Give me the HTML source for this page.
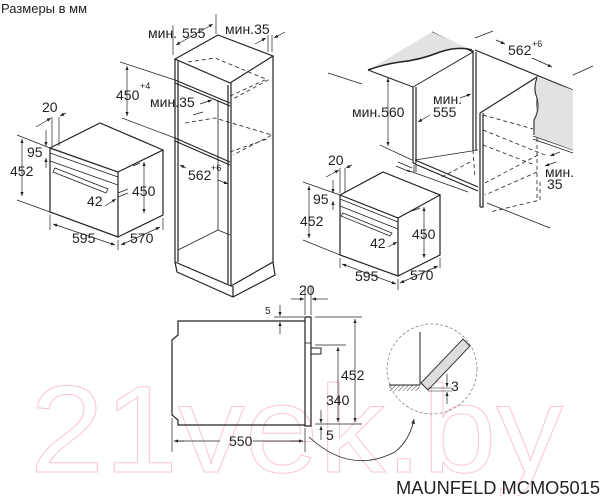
<!DOCTYPE html>
<html><head><meta charset="utf-8"><style>
html,body{margin:0;padding:0;background:#fff;width:600px;height:496px;overflow:hidden}
svg{display:block}
text{font-family:"Liberation Sans",sans-serif;fill:#222}
</style></head><body>
<svg width="600" height="496" viewBox="0 0 600 496" xmlns="http://www.w3.org/2000/svg">
<defs>
<marker id="a" viewBox="0 0 10 10" refX="10" refY="5" markerWidth="6" markerHeight="6" orient="auto-start-reverse"><path d="M0,1 L10,5 L0,9 z" fill="#222"/></marker>
<pattern id="h" width="3" height="3" patternUnits="userSpaceOnUse" patternTransform="rotate(45)"><line x1="0" y1="0" x2="0" y2="3" stroke="#444" stroke-width="1"/></pattern>
</defs>
<!-- watermark -->
<text x="30" y="472" font-size="124" textLength="533" lengthAdjust="spacingAndGlyphs" stroke="#f9c6d5" stroke-width="1" style="fill:none">21vek.by</text>

<text x="1" y="13" font-size="13">Размеры в мм</text>

<g stroke="#222" stroke-width="1.2" fill="none">
<!-- left oven -->
<path d="M50,148 L118,172 L118,237 L50,212 Z"/>
<path d="M50,148 L100,123 L163,150 L118,172"/>
<path d="M163,150 L163,215 L118,237"/>
<path d="M50,153 L118,177" stroke-width="0.8"/>
<path d="M50,161 L118,185" stroke-width="0.8"/>
<path d="M55,168 L108,189 L106,193 L53,172 Z" stroke-width="0.8"/>
<path d="M133,166 L140,163" stroke-width="0.8"/>
<path d="M52,117 L52,146" stroke-width="0.7"/><path d="M59,117 L59,146" stroke-width="0.7"/>
<path d="M36,127 L51,118" marker-end="url(#a)" stroke-width="0.7"/><path d="M66,113 L60,116" marker-end="url(#a)" stroke-width="0.7"/>
<path d="M17,135 L50,148" stroke-width="0.7"/><path d="M17,200 L50,212" stroke-width="0.7"/>
<path d="M22,139 L22,196" marker-start="url(#a)" marker-end="url(#a)" stroke-width="0.7"/>
<path d="M46,130 L46,146" marker-end="url(#a)" stroke-width="0.7"/><path d="M46,168 L46,158" marker-end="url(#a)" stroke-width="0.7"/>
<path d="M144,162 L144,213" marker-start="url(#a)" marker-end="url(#a)" stroke-width="0.7"/>
<path d="M50,215 L50,230" stroke-width="0.7"/><path d="M118,240 L118,250" stroke-width="0.7"/><path d="M163,218 L163,230" stroke-width="0.7"/>
<path d="M53,224 L115,245" marker-start="url(#a)" marker-end="url(#a)" stroke-width="0.7"/>
<path d="M121,245 L160,227" marker-start="url(#a)" marker-end="url(#a)" stroke-width="0.7"/>
<path d="M105,206 L116,199" marker-end="url(#a)" stroke-width="0.7"/>
<path d="M118,193 L128,189" stroke-width="0.7"/><path d="M118,197 L128,193" stroke-width="0.7"/>

<!-- tall cabinet -->
<path d="M175,59 L218,35 L273,56 L230,83 Z"/>
<path d="M175,59 L175,262 L231,286 L231,83"/>
<path d="M273,56 L273,262 L231,286"/>
<path d="M178,61 L178,262"/><path d="M228,85 L228,284"/>
<path d="M175,80 L230,103" /><path d="M175,83 L230,106"/>
<path d="M175,138 L230,162"/><path d="M175,141 L230,165"/>
<path d="M175,262 L177,272 L233,297 L275,275 L273,262"/><path d="M233,286 L233,297"/>
<path d="M218,230 L230,235" stroke-width="0.8"/>
<path d="M218,100 L218,230" stroke-width="0.8"/>
<path d="M218,230 L178,250" stroke-width="0.8"/>
<g stroke-dasharray="4,3" stroke-width="0.8">
<path d="M188,62 L215,58 L268,80 L233,99"/><path d="M230,96 L265,80"/>
<path d="M185,123 L215,118 L272,135 L233,155"/><path d="M230,152 L270,138"/>
</g>
<path d="M173,25 L173,55" stroke-width="0.7"/><path d="M216,14 L216,34" stroke-width="0.7"/>
<path d="M268,35 L268,52" stroke-width="0.7"/><path d="M272,35 L272,52" stroke-width="0.7"/>
<path d="M176,45 L213,24" marker-start="url(#a)" marker-end="url(#a)" stroke-width="0.7"/>
<path d="M255,44 L266,38" marker-end="url(#a)" stroke-width="0.7"/><path d="M285,32 L274,38" marker-end="url(#a)" stroke-width="0.7"/>
<path d="M120,62 L175,80" stroke-width="0.7"/><path d="M122,118 L175,138" stroke-width="0.7"/>
<path d="M127,66 L127,116" marker-start="url(#a)" marker-end="url(#a)" stroke-width="0.7"/>
<path d="M200,104 L212,100" marker-end="url(#a)" stroke-width="0.7"/><path d="M193,115 L203,112" stroke-width="0.7"/>
<path d="M186,168 L180,165" marker-end="url(#a)" stroke-width="0.7"/><path d="M218,180 L228,184" marker-end="url(#a)" stroke-width="0.7"/>

<!-- right cabinet -->
<path d="M368,70 L413,87 L473,52 L432,32" stroke-width="1"/>
<path d="M413,87 L413,163 M416,87 L416,163 M413,163 L416,164"/>
<path d="M473,50 L473,150 M476,52 L476,150"/>
<path d="M415,160 L478,187" /><path d="M415,164 L478,191"/>
<path d="M478,150 L415,160" stroke-width="0.8"/>
<path d="M480,113 L480,198 M483,113 L483,198 M480,198 L480,207 M483,198 L483,207 L480,207"/>
<path d="M480,113 L537,77 L537,135"/>
<path d="M475,50 L573,90"/>
<path d="M407,170 L468,192" stroke-width="0.8"/><path d="M487,203 L550,228" stroke-width="0.8"/>
<path d="M398,162 L412,168" stroke-width="0.8"/><path d="M396,166 L410,172" stroke-width="0.8"/>
<path d="M414,165 L414,172 M416,165 L416,172" stroke-width="0.8"/>
<path d="M533,136 L573,150 M533,139 L573,153" stroke-width="0.8"/>
<g stroke-dasharray="4,3" stroke-width="0.8">
<path d="M473,150 L475,178"/><path d="M483,115 L537,130"/><path d="M483,130 L545,155"/>
<path d="M538,155 L483,184"/><path d="M470,162 L440,178"/><path d="M483,145 L535,165"/>
<path d="M537,138 L537,200"/><path d="M537,172 L485,195"/><path d="M540,182 L540,200 L490,212"/>
</g>
<path d="M328,73 L362,84" stroke-width="0.7"/><path d="M380,145 L412,160" stroke-width="0.7"/>
<path d="M388,78 L388,146" marker-start="url(#a)" marker-end="url(#a)" stroke-width="0.7"/>
<path d="M460,98 L471,94" marker-end="url(#a)" stroke-width="0.7"/><path d="M430,115 L418,122" marker-end="url(#a)" stroke-width="0.7"/>
<path d="M493,31 L475,38" stroke-width="0.7"/><path d="M593,66 L573,75" stroke-width="0.7"/>
<path d="M496,40 L505,44" marker-end="url(#a)" stroke-width="0.7"/><path d="M532,58 L552,67" marker-end="url(#a)" stroke-width="0.7"/>
<path d="M560,152 L550,156" marker-end="url(#a)" stroke-width="0.7"/><path d="M556,162 L545,166" marker-end="url(#a)" stroke-width="0.7"/>

<!-- second oven -->
<path d="M340,195 L398,218 L398,276 L340,255 Z"/>
<path d="M340,195 L383,172 L440,195 L398,218"/>
<path d="M440,195 L440,255 L398,276"/>
<path d="M340,199 L398,222" stroke-width="0.8"/><path d="M340,206 L398,229" stroke-width="0.8"/>
<path d="M343,213 L392,233 L390,236 L341,216 Z" stroke-width="0.8"/>
<path d="M412,211 L420,208" stroke-width="0.8"/>
<path d="M340,168 L340,193 M345,168 L345,193" stroke-width="0.7"/>
<path d="M326,177 L339,170" marker-end="url(#a)" stroke-width="0.7"/><path d="M352,165 L346,168" marker-end="url(#a)" stroke-width="0.7"/>
<path d="M303,182 L340,195" stroke-width="0.7"/><path d="M303,240 L340,255" stroke-width="0.7"/>
<path d="M309,186 L309,238" marker-start="url(#a)" marker-end="url(#a)" stroke-width="0.7"/>
<path d="M333,180 L333,193" marker-end="url(#a)" stroke-width="0.7"/><path d="M333,210 L333,201" marker-end="url(#a)" stroke-width="0.7"/>
<path d="M424,207 L424,258" marker-start="url(#a)" marker-end="url(#a)" stroke-width="0.7"/>
<path d="M340,258 L340,268 M398,279 L398,290 M440,258 L440,268" stroke-width="0.7"/>
<path d="M342,264 L396,284" marker-start="url(#a)" marker-end="url(#a)" stroke-width="0.7"/>
<path d="M400,283 L438,266" marker-start="url(#a)" marker-end="url(#a)" stroke-width="0.7"/>
<path d="M388,247 L397,242" marker-end="url(#a)" stroke-width="0.7"/>

<!-- side view -->
<path d="M305,321 L178,321 L178,335 L172,340 L172,415 L178,420 L178,425 L305,425"/>
<path d="M305,317 L311,317 L311,426 L305,426 Z"/>
<path d="M305,343 L311,343" stroke-width="0.8"/>
<path d="M311,348 L321,348 L321,354 L311,354" stroke-width="1"/>
<path d="M305,286 L305,315 M311,286 L311,315" stroke-width="0.7"/>
<path d="M291,299 L304,299" marker-end="url(#a)" stroke-width="0.7"/><path d="M328,299 L312,299" marker-end="url(#a)" stroke-width="0.7"/>
<path d="M274,317 L304,317 M315,317 L362,317" stroke-width="0.7"/>
<path d="M280,305 L280,316" marker-end="url(#a)" stroke-width="0.7"/><path d="M280,334 L280,322" marker-end="url(#a)" stroke-width="0.7"/>
<path d="M315,345 L346,345 M315,424 L362,424" stroke-width="0.7"/>
<path d="M355,319 L355,422" marker-start="url(#a)" marker-end="url(#a)" stroke-width="0.7"/>
<path d="M338,347 L338,422" marker-start="url(#a)" marker-end="url(#a)" stroke-width="0.7"/>
<path d="M321,410 L321,423" marker-end="url(#a)" stroke-width="0.7"/><path d="M321,440 L321,426" marker-end="url(#a)" stroke-width="0.7"/>
<path d="M172,418 L172,452 M305,428 L305,452" stroke-width="0.7"/>
<path d="M174,441 L220,441 M253,441 L303,441" stroke-width="0.7"/>
<path d="M174,441 L184,441" marker-start="url(#a)" stroke-width="0.7"/><path d="M290,441 L303,441" marker-end="url(#a)" stroke-width="0.7"/>
<path d="M309,437 Q350,475 395,452 Q410,440 414,419" stroke-width="0.8" marker-end="url(#a)"/>
<circle cx="432" cy="369" r="45" stroke="#888" stroke-dasharray="3,2" stroke-width="0.8"/>
<path d="M420,332 L420,385" stroke-width="1"/>
<rect x="389" y="385" width="31" height="6" fill="url(#h)" stroke="none"/>
<path d="M389,385 L420,385" stroke-width="1"/>
<path d="M421,383 L463,339 L470,346 L428,390 Z" fill="#ddd" stroke-width="0.9"/>
<path d="M428,388 L452,388 M428,391 L452,391" stroke-width="0.6"/>
<path d="M447,374 L447,387" marker-end="url(#a)" stroke-width="0.7"/><path d="M447,404 L447,392" marker-end="url(#a)" stroke-width="0.7"/>
</g>
<path d="M368,70 Q385,64 400,62 Q420,60 440,52 Q458,46 472,50 L432,32 Z" fill="#e2e2e2" stroke="none"/>
<path d="M368,70 Q385,64 400,62 Q420,60 440,52 Q458,46 472,50" fill="none" stroke="#222" stroke-width="1.5"/>
<path d="M537,77 L573,90 L573,150 L535,136 Q530,125 535,115 Q540,100 533,92 Z" fill="#e2e2e2" stroke="none"/>
<path d="M537,78 Q533,88 537,98 Q540,110 534,120 L534,135" fill="none" stroke="#222" stroke-width="1"/>

<g font-size="14">
<text x="148" y="38">мин.</text><text x="182" y="38">555</text>
<text x="225" y="34">мин.35</text>
<text x="116" y="100">450</text><text x="140" y="89" font-size="9">+4</text>
<text x="150" y="107">мин.35</text>
<text x="42" y="112">20</text>
<text x="27" y="157">95</text><text x="10" y="176">452</text>
<text x="132" y="196">450</text><text x="87" y="206">42</text>
<text x="72" y="243">595</text><text x="130" y="243">570</text>
<text x="188" y="180">562</text><text x="211" y="171" font-size="9">+6</text>
<text x="508" y="55">562</text><text x="532" y="47" font-size="9">+6</text>
<text x="352" y="117">мин.560</text>
<text x="433" y="104">мин.</text><text x="433" y="117">555</text>
<text x="545" y="177">мин.</text><text x="547" y="189">35</text>
<text x="328" y="165">20</text><text x="313" y="204">95</text><text x="300" y="226">452</text>
<text x="412" y="239">450</text><text x="370" y="248">42</text>
<text x="355" y="281">595</text><text x="410" y="280">570</text>
<text x="299" y="295">20</text>
<text x="265" y="314" font-size="10">5</text>
<text x="341" y="380">452</text><text x="326" y="405">340</text>
<text x="326" y="440">5</text>
<text x="229" y="446">550</text>
<text x="451" y="391">3</text>
<text x="396" y="494" font-size="18" textLength="204" lengthAdjust="spacingAndGlyphs">MAUNFELD MCMO5015</text>
</g>
</svg>
</body></html>
